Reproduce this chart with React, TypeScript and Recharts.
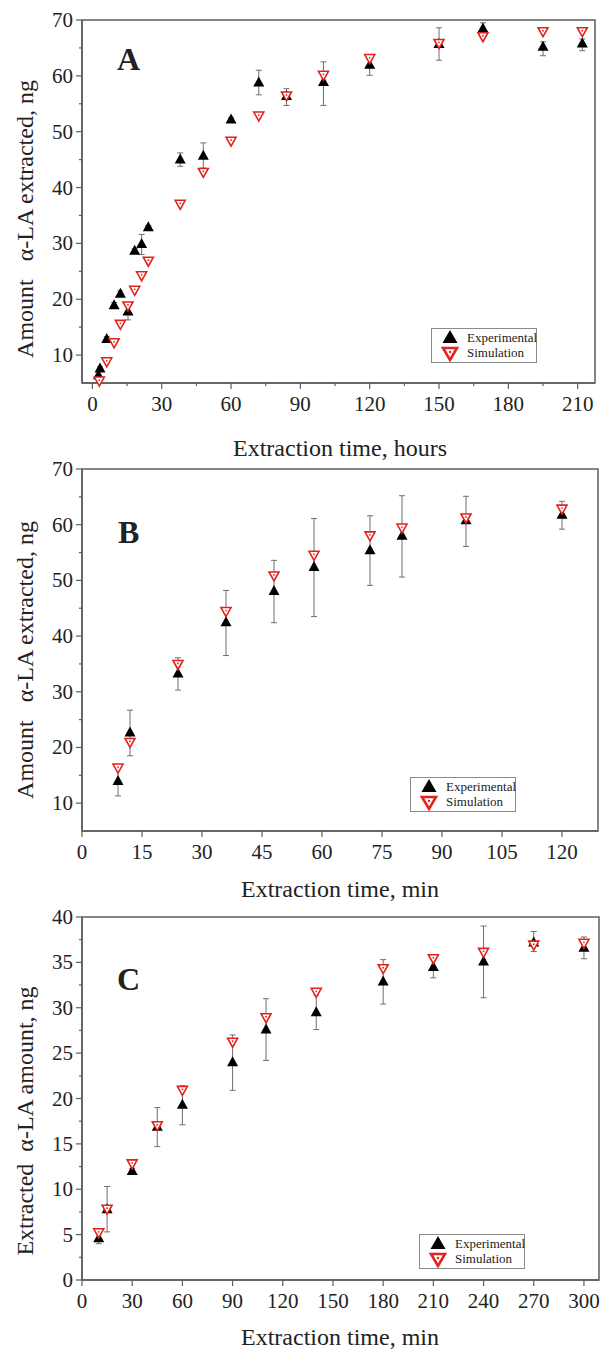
import React from "react";
import {
  ScatterChart,
  Scatter,
  XAxis,
  YAxis,
  ErrorBar,
  ReferenceArea,
  Legend,
} from "recharts";

// Panel A: extraction over hours
const expHoursA = [2.6, 3.3, 6.2, 9.4, 12.1, 15.4, 18.3, 21.3, 24.2, 38, 48, 60, 72, 84, 100, 120, 150, 169, 195, 212];
const expAmountA = [6.4, 7.6, 12.9, 18.9, 21.0, 17.8, 28.7, 29.9, 32.9, 45.0, 45.7, 52.2, 58.8, 56.4, 58.9, 62.0, 65.7, 68.5, 65.2, 65.8];
const expErrDownA = [0, 0.3, 0.4, 0.5, 0.5, 1.5, 0.4, 1.9, 0.3, 1.2, 2.2, 0.3, 2.2, 1.7, 4.2, 1.9, 2.9, 0.5, 1.6, 1.3];
const expErrUpA = [0, 0.3, 0.4, 0.5, 0.5, 1.0, 0.4, 1.7, 0.3, 1.2, 2.3, 0.3, 2.2, 1.3, 3.6, 1.2, 2.9, 1.0, 0.9, 0.8];
const simHoursA = [3.0, 6.2, 9.4, 12.1, 15.4, 18.3, 21.3, 24.2, 38, 48, 60, 72, 84, 100, 120, 150, 169, 195, 212];
const simAmountA = [5.35, 8.8, 12.2, 15.5, 18.8, 21.6, 24.2, 26.8, 37.0, 42.7, 48.3, 52.8, 56.4, 60.1, 63.1, 65.8, 67.0, 67.9, 67.9];

// Panel B: extraction over minutes
const minutesB = [9, 12, 24, 36, 48, 58, 72, 80, 96, 120];
const expAmountB = [14.0, 22.7, 33.3, 42.5, 48.1, 52.4, 55.4, 58.0, 60.8, 61.8];
const expErrDownB = [2.7, 4.2, 3.0, 6.0, 5.7, 8.9, 6.3, 7.4, 4.7, 2.6];
const expErrUpB = [2.7, 4.0, 2.8, 5.7, 5.5, 8.7, 6.2, 7.2, 4.3, 2.4];
const simAmountB = [16.3, 20.9, 34.9, 44.4, 50.8, 54.5, 58.0, 59.4, 61.2, 62.8];

// Panel C: extraction over minutes
const minutesC = [10, 15, 30, 45, 60, 90, 110, 140, 180, 210, 240, 270, 300];
const expAmountC = [4.6, 7.8, 12.0, 16.9, 19.3, 24.0, 27.6, 29.5, 32.9, 34.5, 35.1, 37.2, 36.6];
const expErrDownC = [0.6, 2.5, 0.3, 2.2, 2.2, 3.1, 3.4, 1.9, 2.5, 1.2, 4.0, 1.0, 1.2];
const expErrUpC = [0.6, 2.5, 0.3, 2.1, 2.1, 3.0, 3.4, 1.9, 2.4, 1.1, 3.9, 1.2, 1.2];
const simAmountC = [5.2, 7.8, 12.8, 17.0, 20.9, 26.2, 28.9, 31.7, 34.3, 35.4, 36.1, 36.9, 37.1];

// ticks (majors get labels, the rest are minor marks)
const xTicksA = [0, 15, 30, 45, 60, 75, 90, 105, 120, 135, 150, 165, 180, 195, 210];
const yTicksA = [10, 15, 20, 25, 30, 35, 40, 45, 50, 55, 60, 65, 70];
const xTicksB = [0, 15, 30, 45, 60, 75, 90, 105, 120];
const yTicksB = [10, 15, 20, 25, 30, 35, 40, 45, 50, 55, 60, 65, 70];
const xTicksC = [0, 30, 60, 90, 120, 150, 180, 210, 240, 270, 300];
const yTicksC = [0, 2.5, 5, 7.5, 10, 12.5, 15, 17.5, 20, 22.5, 25, 27.5, 30, 32.5, 35, 37.5, 40];

const SERIF = '"Liberation Serif", "Times New Roman", serif';
const AXIS = "#5e5e5e";
const RED = "#e3221d";

const rows = (xs: number[], ys: number[], dn?: number[], up?: number[]) =>
  xs.map((x, i) => ({ x, y: ys[i], err: dn && up ? [dn[i], up[i]] : undefined }));

const isMajor = (v: number, step: number) => Math.abs(v / step - Math.round(v / step)) < 1e-6;

const XTick = ({ x, y, payload, step }: any) => {
  const major = isMajor(payload.value, step);
  return (
    <g>
      <line x1={x} x2={x} y1={y} y2={y + (major ? 6 : 3)} stroke={AXIS} strokeWidth={1.2} />
      {major && (
        <text x={x} y={y + 28} textAnchor="middle" fontSize={21} fontFamily={SERIF} fill="#222">
          {payload.value}
        </text>
      )}
    </g>
  );
};

const YTick = ({ x, y, payload, step }: any) => {
  const major = isMajor(payload.value, step);
  return (
    <g>
      <line x1={x} x2={x - (major ? 6 : 3)} y1={y} y2={y} stroke={AXIS} strokeWidth={1.2} />
      {major && (
        <text x={x - 9} y={y + 7} textAnchor="end" fontSize={21} fontFamily={SERIF} fill="#222">
          {payload.value}
        </text>
      )}
    </g>
  );
};

const UpTri = ({ cx, cy }: any) => (
  <polygon points={`${cx},${cy - 6} ${cx - 5.5},${cy + 4} ${cx + 5.5},${cy + 4}`} fill="#000" />
);

const DownTri = ({ cx, cy }: any) => (
  <g>
    <polygon
      points={`${cx - 5},${cy - 4} ${cx + 5},${cy - 4} ${cx},${cy + 5}`}
      fill="#fff"
      stroke={RED}
      strokeWidth={1.6}
    />
    <circle cx={cx} cy={cy - 1} r={0.9} fill={RED} />
  </g>
);

const LegendBox = () => (
  <svg width={107} height={36} style={{ display: "block" }}>
    <rect x={0.5} y={0.5} width={105} height={34} fill="#fff" stroke="#8a8a8a" strokeWidth={1} />
    <polygon points="19,2 11.5,15 26.5,15" fill="#000" />
    <polygon points="12,20 26,20 19,32" fill="#fff" stroke={RED} strokeWidth={2.6} strokeLinejoin="miter" />
    <circle cx={19} cy={24} r={1.2} fill={RED} />
    <text x={36} y={14} fontSize={13} fontFamily={SERIF} fill="#222">Experimental</text>
    <text x={36} y={29} fontSize={13} fontFamily={SERIF} fill="#222">Simulation</text>
  </svg>
);

type PanelProps = {
  top: number;
  height: number;
  right: number;
  xDomain: [number, number];
  yDomain: [number, number];
  xTicks: number[];
  yTicks: number[];
  xStep: number;
  yStep: number;
  exp: any[];
  sim: any[];
  legendLeft: number;
  legendTop: number;
};

// plot area starts 20px below the chart's own top edge
function Panel(p: PanelProps) {
  return (
    <div style={{ position: "absolute", left: 0, top: p.top }}>
      <ScatterChart width={602} height={p.height} margin={{ top: 20, right: p.right, bottom: 0, left: 0 }}>
        <XAxis
          type="number"
          dataKey="x"
          domain={p.xDomain}
          ticks={p.xTicks}
          interval={0}
          height={70}
          tickSize={0}
          tickMargin={0}
          tickLine={false}
          axisLine={{ stroke: AXIS, strokeWidth: 1.5 }}
          tick={(t: any) => <XTick {...t} step={p.xStep} />}
        />
        <YAxis
          type="number"
          dataKey="y"
          domain={p.yDomain}
          ticks={p.yTicks}
          interval={0}
          width={82}
          tickSize={0}
          tickMargin={0}
          tickLine={false}
          axisLine={{ stroke: AXIS, strokeWidth: 1.5 }}
          tick={(t: any) => <YTick {...t} step={p.yStep} />}
        />
        <ReferenceArea
          x1={p.xDomain[0]}
          x2={p.xDomain[1]}
          y1={p.yDomain[0]}
          y2={p.yDomain[1]}
          fill="none"
          fillOpacity={0}
          stroke={AXIS}
          strokeWidth={1.5}
          ifOverflow="visible"
        />
        <Scatter name="Experimental" data={p.exp} shape={UpTri} isAnimationActive={false}>
          <ErrorBar dataKey="err" direction="y" width={3} stroke="#6f6f6f" strokeWidth={1} />
        </Scatter>
        <Scatter name="Simulation" data={p.sim} shape={DownTri} isAnimationActive={false} />
        <Legend
          layout="vertical"
          align="center"
          verticalAlign="middle"
          content={() => <LegendBox />}
          wrapperStyle={{ left: p.legendLeft, top: p.legendTop, width: 107, height: 36 }}
        />
      </ScatterChart>
    </div>
  );
}

export default function App() {
  const textStyle = { fontFamily: SERIF, fill: "#222" };
  return (
    <div style={{ position: "absolute", left: 0, top: 0, width: 602, height: 1352, background: "#fff", overflow: "hidden" }}>
      <Panel
        top={0}
        height={453}
        right={7}
        xDomain={[-4.5, 217.5]}
        yDomain={[5, 70]}
        xTicks={xTicksA}
        yTicks={yTicksA}
        xStep={30}
        yStep={10}
        exp={rows(expHoursA, expAmountA, expErrDownA, expErrUpA)}
        sim={rows(simHoursA, simAmountA)}
        legendLeft={431}
        legendTop={328}
      />
      <Panel
        top={449}
        height={452}
        right={4}
        xDomain={[0, 129]}
        yDomain={[5, 70]}
        xTicks={xTicksB}
        yTicks={yTicksB}
        xStep={15}
        yStep={10}
        exp={rows(minutesB, expAmountB, expErrDownB, expErrUpB)}
        sim={rows(minutesB, simAmountB)}
        legendLeft={410}
        legendTop={328}
      />
      <Panel
        top={897}
        height={453}
        right={3}
        xDomain={[0, 309]}
        yDomain={[0, 40]}
        xTicks={xTicksC}
        yTicks={yTicksC}
        xStep={30}
        yStep={5}
        exp={rows(minutesC, expAmountC, expErrDownC, expErrUpC)}
        sim={rows(minutesC, simAmountC)}
        legendLeft={419}
        legendTop={337}
      />
      <svg width={602} height={1352} style={{ position: "absolute", left: 0, top: 0, pointerEvents: "none" }}>
        <text x={117} y={70} fontSize={32} fontWeight="bold" {...textStyle}>A</text>
        <text x={118} y={543} fontSize={32} fontWeight="bold" {...textStyle}>B</text>
        <text x={117} y={990} fontSize={32} fontWeight="bold" {...textStyle}>C</text>

        <text x={340} y={456} fontSize={24} textAnchor="middle" {...textStyle}>Extraction time, hours</text>
        <text x={340} y={897} fontSize={24} textAnchor="middle" {...textStyle}>Extraction time, min</text>
        <text x={340} y={1345} fontSize={24} textAnchor="middle" {...textStyle}>Extraction time, min</text>

        <text transform="translate(33,219) rotate(-90)" fontSize={24} textAnchor="middle" style={{ whiteSpace: "pre" }} {...textStyle}>
          {"Amount   α-LA extracted, ng"}
        </text>
        <text transform="translate(33,660) rotate(-90)" fontSize={24} textAnchor="middle" style={{ whiteSpace: "pre" }} {...textStyle}>
          {"Amount   α-LA extracted, ng"}
        </text>
        <text transform="translate(33,1121) rotate(-90)" fontSize={24} textAnchor="middle" style={{ whiteSpace: "pre" }} {...textStyle}>
          {"Extracted  α-LA amount, ng"}
        </text>
      </svg>
    </div>
  );
}
